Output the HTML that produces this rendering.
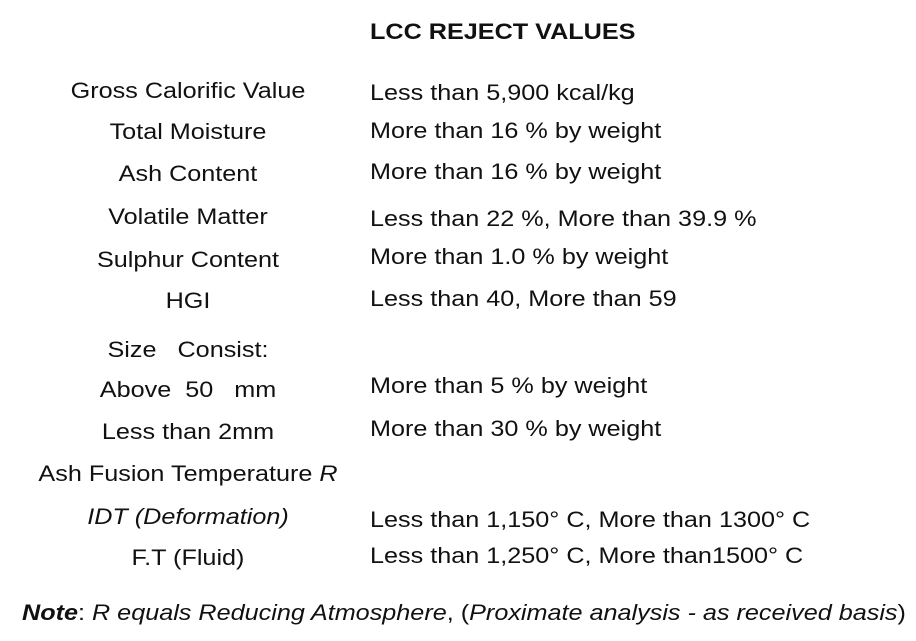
<!DOCTYPE html>
<html><head><meta charset="utf-8"><style>
body{margin:0;width:916px;height:641px;background:#fff;position:relative;overflow:hidden;font-family:"Liberation Sans",Arial,sans-serif;font-size:22px;color:#111;}
.t{position:absolute;white-space:nowrap;line-height:26px;transform:scaleX(1.145);transform-origin:0 50%;}
.l{left:0;width:376px;text-align:center;transform-origin:188px 50%;}
.r{left:370px;}
</style></head><body>
<div class="t" style="left:370px;top:19px;font-weight:bold;">LCC REJECT VALUES</div>

<div class="t l" style="top:78px">Gross Calorific Value</div>
<div class="t r" style="top:80px">Less than 5,900 kcal/kg</div>

<div class="t l" style="top:119px">Total Moisture</div>
<div class="t r" style="top:118px">More than 16 % by weight</div>

<div class="t l" style="top:161px">Ash Content</div>
<div class="t r" style="top:159px">More than 16 % by weight</div>

<div class="t l" style="top:204px">Volatile Matter</div>
<div class="t r" style="top:206px">Less than 22 %, More than 39.9 %</div>

<div class="t l" style="top:247px">Sulphur Content</div>
<div class="t r" style="top:244px">More than 1.0 % by weight</div>

<div class="t l" style="top:288px">HGI</div>
<div class="t r" style="top:286px">Less than 40, More than 59</div>

<div class="t l" style="top:337px">Size&nbsp;&nbsp;&nbsp;Consist:</div>

<div class="t l" style="top:377px">Above&nbsp;&nbsp;50&nbsp;&nbsp;&nbsp;mm</div>
<div class="t r" style="top:373px">More than 5 % by weight</div>

<div class="t l" style="top:419px">Less than 2mm</div>
<div class="t r" style="top:416px">More than 30 % by weight</div>

<div class="t l" style="top:461px">Ash Fusion Temperature <i>R</i></div>

<div class="t l" style="top:504px"><i>IDT (Deformation)</i></div>
<div class="t r" style="top:507px">Less than 1,150° C, More than 1300° C</div>

<div class="t l" style="top:545px">F.T (Fluid)</div>
<div class="t r" style="top:543px">Less than 1,250° C, More than1500° C</div>

<div class="t" style="left:22px;top:600px;"><b><i>Note</i></b>: <i>R equals Reducing Atmosphere</i>, (<i>Proximate analysis - as received basis</i>)</div>
</body></html>
